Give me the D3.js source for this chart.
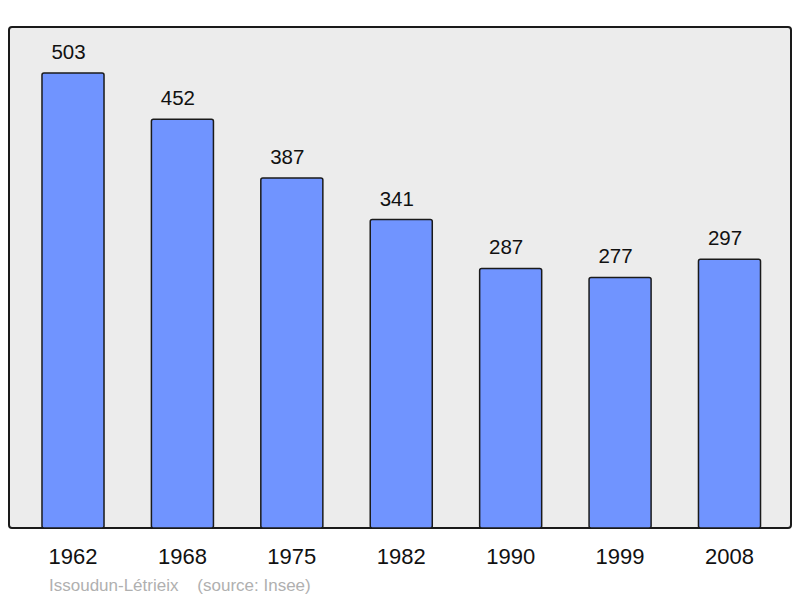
<!DOCTYPE html>
<html>
<head>
<meta charset="utf-8">
<script src="https://d3js.org/d3.v7.min.js"></script>
<style>
    html, body { margin: 0; padding: 0; background: white; }
    text { font-family: 'Liberation Sans', Arial, sans-serif; }
</style>
</head>
<body>
<script>

// DATA
const years = ['1962', '1968', '1975', '1982', '1990', '1999', '2008']
const population = [503, 452, 387, 341, 287, 277, 297]
const caption = 'Issoudun-Létrieix    (source: Insee)'

const W = 800, H = 598
const svg = d3.select('body').append('svg')
    .attr('width', W)
    .attr('height', H)

// panel
svg.append('rect')
    .attr('x', 9).attr('y', 27)
    .attr('width', 782).attr('height', 501)
    .attr('rx', 3).attr('ry', 3)
    .attr('fill', '#ececec')
    .attr('stroke', '#1a1a1a')
    .attr('stroke-width', 2)

// SCALES
const x = d3.scaleBand()
    .domain(years)
    .range([18.3, 784.2])
    .paddingInner(0.433)
    .paddingOuter(0.2165)

const y = d3.scaleLinear()
    .domain([0, 503])
    .range([528, 73])

// bars
const data = years.map((yr, i) => ({ yr: yr, v: population[i] }))

svg.selectAll('rect.bar')
    .data(data)
    .enter().append('rect')
    .attr('class', 'bar')
    .attr('x', d => x(d.yr))
    .attr('y', d => y(d.v))
    .attr('width', x.bandwidth())
    .attr('height', d => y(0) - y(d.v))
    .attr('rx', 2).attr('ry', 2)
    .attr('fill', '#7094ff')
    .attr('stroke', '#1a1a1a')
    .attr('stroke-width', 1.5)

// value labels
svg.selectAll('text.val')
    .data(data)
    .enter().append('text')
    .attr('class', 'val')
    .attr('x', d => x(d.yr) + x.bandwidth() / 2 - 4.5)
    .attr('y', d => y(d.v) - 14)
    .attr('text-anchor', 'middle')
    .attr('font-size', '20.5px')
    .attr('fill', '#111')
    .text(d => d.v)

// year axis (no line, labels only)
const axis = svg.append('g')
    .attr('transform', 'translate(0,528)')
    .call(d3.axisBottom(x).tickSize(0).tickPadding(20))
axis.select('.domain').remove()
axis.selectAll('text')
    .attr('font-size', '22px')
    .attr('font-family', "'Liberation Sans', Arial, sans-serif")
    .attr('fill', '#111')

// caption
svg.append('text')
    .attr('x', 49)
    .attr('y', 591)
    .attr('font-size', '17px')
    .attr('fill', '#b0b0b0')
    .attr('xml:space', 'preserve')
    .style('white-space', 'pre')
    .text(caption)

</script>
</body>
</html>
